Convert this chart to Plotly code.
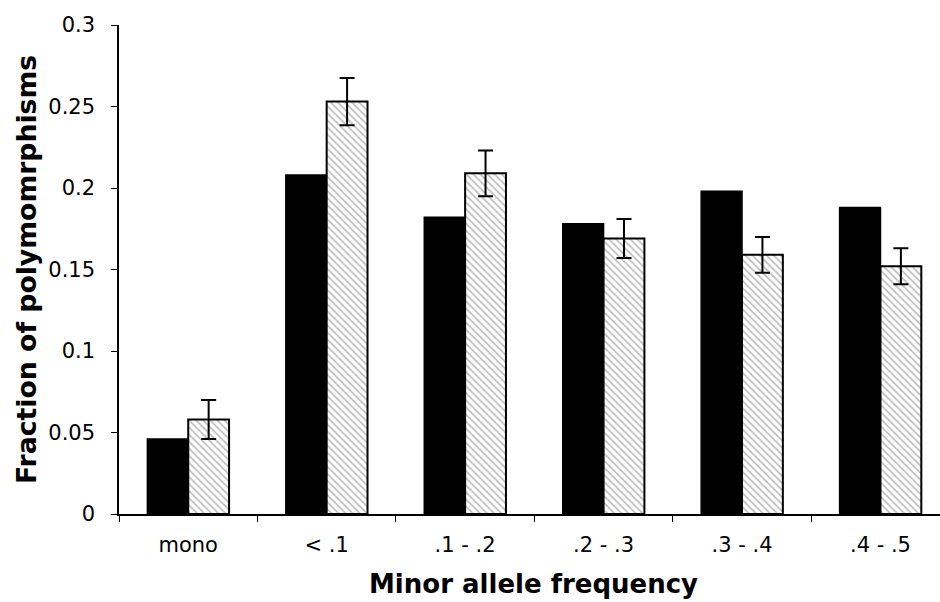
import plotly.graph_objects as go

categories = ["mono", "< .1", ".1 - .2", ".2 - .3", ".3 - .4", ".4 - .5"]
observed = [0.046, 0.208, 0.182, 0.178, 0.198, 0.188]
expected = [0.058, 0.253, 0.209, 0.169, 0.159, 0.152]
expected_err = [0.012, 0.0145, 0.014, 0.012, 0.011, 0.011]
y_tick_vals = [0, 0.05, 0.1, 0.15, 0.2, 0.25, 0.3]
y_tick_text = ["0", "0.05", "0.1", "0.15", "0.2", "0.25", "0.3"]

FONT = "DejaVu Sans"
L, R, T, B = 119, 0, 25, 88
W, H = 940, 602
pw, ph = W - L - R, H - T - B

fig = go.Figure()
fig.add_trace(go.Bar(
    x=categories, y=observed, name="observed",
    marker=dict(color="black", line=dict(color="black", width=1.5)),
))
fig.add_trace(go.Bar(
    x=categories, y=expected, name="expected",
    marker=dict(color="white", line=dict(color="black", width=2),
                pattern=dict(shape="\\", fgcolor="#858585", bgcolor="white",
                             size=5, solidity=0.38)),
    error_y=dict(type="data", array=expected_err, symmetric=True,
                 color="black", thickness=2, width=7.5),
))

fig.update_layout(
    width=W, height=H,
    margin=dict(l=L, r=R, t=T, b=B),
    paper_bgcolor="white", plot_bgcolor="white",
    barmode="group", bargap=0.41, bargroupgap=0,
    showlegend=False,
    font=dict(family=FONT, color="black", size=21),
)
fig.update_xaxes(
    range=[-0.5, 5.43], showline=True, linecolor="black", linewidth=1.5,
    ticks="outside", tickson="boundaries", ticklen=6, tickcolor="black",
    tickfont=dict(size=21, family=FONT), showgrid=False, zeroline=False,
    ticklabelstandoff=11,
)
fig.update_yaxes(
    range=[0, 0.3], tickvals=y_tick_vals, ticktext=y_tick_text,
    showline=True, linecolor="black", linewidth=1.5,
    ticks="outside", ticklen=6, tickcolor="black",
    tickfont=dict(size=21, family=FONT), showgrid=False, zeroline=False,
    ticklabelstandoff=12,
)

fig.add_annotation(
    text="<b>Fraction of polymomrphisms</b>", textangle=-90,
    xref="paper", yref="paper",
    x=(26 - L) / pw, y=(H - B - 270) / ph,
    xanchor="center", yanchor="middle", showarrow=False,
    font=dict(size=26.7, family=FONT, color="black"),
)
fig.add_annotation(
    text="<b>Minor allele frequency</b>",
    xref="paper", yref="paper",
    x=(533 - L) / pw, y=-(584 - (H - B)) / ph,
    xanchor="center", yanchor="middle", showarrow=False,
    font=dict(size=26, family=FONT, color="black"),
)

fig.write_html("out.html")
